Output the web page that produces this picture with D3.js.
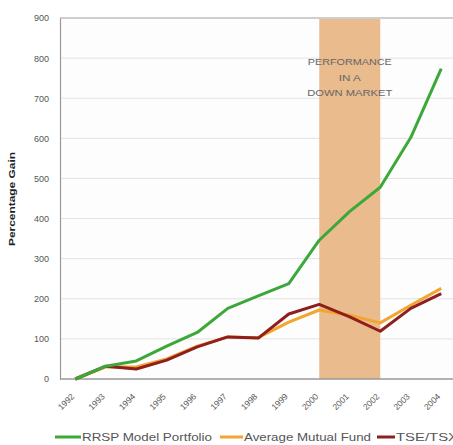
<!DOCTYPE html>
<html><head><meta charset="utf-8">
<script src="https://cdn.jsdelivr.net/npm/d3@7"></script>
<style>body{margin:0;background:#fff}svg{display:block}text{font-family:"Liberation Sans",Arial,sans-serif}</style>
</head><body><svg id="c" width="453" height="445"></svg>
<script>
const years = ["1992","1993","1994","1995","1996","1997","1998","1999","2000","2001","2002","2003","2004"];
const rrsp = [0, 32, 45, 82, 116, 176, 207, 238, 346, 418, 478, 602, 774];
const mutual = [0, 30, 30, 50, 82, 105, 103, 142, 172, 159, 140, 184, 226];
const tse = [0, 32, 25, 47, 80, 105, 102, 162, 186, 155, 119, 176, 213];
const yTicks = [0,100,200,300,400,500,600,700,800,900];
const seriesNames = ["RRSP Model Portfolio","Average Mutual Fund","TSE/TSX"];
const colors = ["#3da83a","#f3a531","#8e1f1c"];
const shadeRange = ["2000","2002"];
const annotation = ["PERFORMANCE","IN A","DOWN MARKET"];

const svg = d3.select("#c");
const L = 60, R = 456.5, T = 18, B = 379;
const x = d3.scalePoint().domain(years).range([L, R]).padding(0.5);
const y = d3.scaleLinear().domain([0, 900]).range([B, T]);

svg.append("rect").attr("x", L).attr("y", T).attr("width", R - L).attr("height", B - T).attr("fill", "#fdfdfd");
// gridlines
svg.append("g").selectAll("line").data(yTicks.slice(1)).join("line")
  .attr("x1", L).attr("x2", R).attr("y1", d => y(d)).attr("y2", d => y(d))
  .attr("stroke", d => d === 900 ? "#a0a0a0" : "#e2e2e2").attr("stroke-width", d => d === 900 ? 1.2 : 1);
// shading
svg.append("rect").attr("x", x(shadeRange[0])).attr("y", T + 1).attr("width", x(shadeRange[1]) - x(shadeRange[0]))
  .attr("height", B - T - 1).attr("fill", "#e9bb8d");
const annW = [84, 22, 85];
svg.append("g").selectAll("text").data(annotation).join("text")
  .attr("x", (x(shadeRange[0]) + x(shadeRange[1])) / 2).attr("y", (d, i) => 65 + i * 15.5)
  .attr("text-anchor", "middle").attr("font-size", 9).attr("fill", "#666")
  .attr("textLength", (d, i) => annW[i]).attr("lengthAdjust", "spacingAndGlyphs")
  .text(d => d);
// axes
const ya = svg.append("g").attr("transform", `translate(${L},0)`)
  .call(d3.axisLeft(y).tickValues(yTicks).tickSize(0).tickPadding(11));
ya.select(".domain").attr("stroke", "#999").attr("stroke-width", 1.2);
ya.selectAll("text").attr("font-size", 9).attr("fill", "#555").attr("font-family", "Liberation Sans,Arial,sans-serif");
const xa = svg.append("g").attr("transform", `translate(0,${B})`)
  .call(d3.axisBottom(x).tickSize(0).tickPadding(6));
xa.select(".domain").attr("stroke", "#999").attr("stroke-width", 1.5).attr("d", `M${L},0H${R}`);
xa.selectAll("text").attr("font-size", 8.5).attr("fill", "#555").attr("font-family", "Liberation Sans,Arial,sans-serif")
  .attr("text-anchor", "end").attr("x", 0).attr("y", 0).attr("dy", "0.35em")
  .attr("transform", "translate(-3,16) rotate(-45)");
// y title
svg.append("text").attr("transform", `translate(15,199) rotate(-90)`).attr("text-anchor", "middle")
  .attr("font-size", 9.5).attr("font-weight", "bold").attr("fill", "#222")
  .attr("textLength", 94).attr("lengthAdjust", "spacingAndGlyphs").text("Percentage Gain");
// lines
const data = [rrsp, mutual, tse];
const line = d3.line().x((d, i) => x(years[i])).y(d => y(d));
[1, 2, 0].forEach(k => {
  svg.append("path").datum(data[k]).attr("d", line).attr("fill", "none")
    .attr("stroke", colors[k]).attr("stroke-width", 3).attr("stroke-linejoin", "round");
});
// legend
const lg = [[55, 81], [220, 243], [377, 395]];
const lgW = [130, 127, 62];
seriesNames.forEach((n, i) => {
  svg.append("line").attr("x1", lg[i][0]).attr("x2", lg[i][1]).attr("y1", 437).attr("y2", 437)
    .attr("stroke", colors[i]).attr("stroke-width", 3);
  svg.append("text").attr("x", lg[i][1] + 1).attr("y", 441).attr("font-size", 10.5).attr("fill", "#555")
    .attr("textLength", lgW[i]).attr("lengthAdjust", "spacingAndGlyphs").text(n);
});
</script></body></html>
